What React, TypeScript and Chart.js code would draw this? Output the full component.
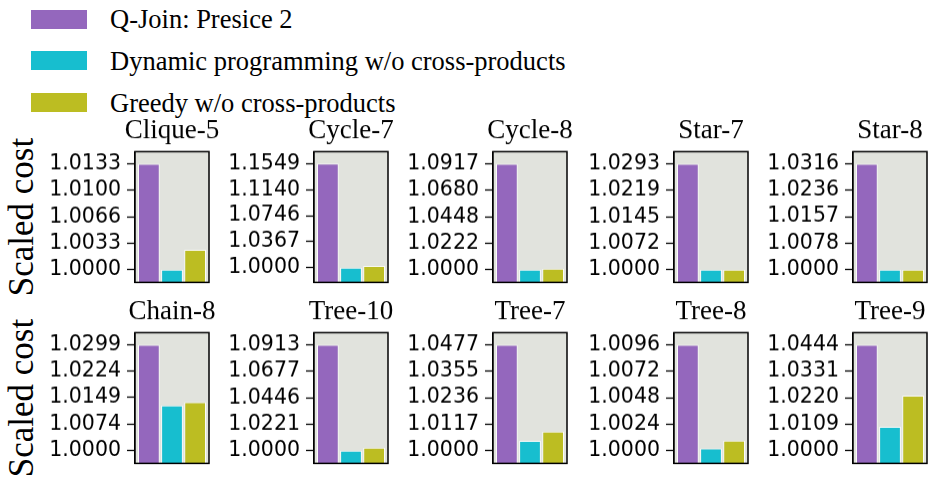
import React, { useEffect, useRef } from 'react';
import { Chart, registerables } from 'chart.js';

Chart.register(...registerables);

// ---- data ----
const panelTitles = ['Clique-5', 'Cycle-7', 'Cycle-8', 'Star-7', 'Star-8', 'Chain-8', 'Tree-10', 'Tree-7', 'Tree-8', 'Tree-9'];
const qjoinCost = [1.0133, 1.1549, 1.0917, 1.0293, 1.0316, 1.0299, 1.0913, 1.0477, 1.0096, 1.0444];
const dpCost = [1.0, 1.0, 1.0, 1.0, 1.0, 1.0127, 1.0, 1.0043, 1.0002, 1.0099];
const greedyCost = [1.0025, 1.0025, 1.0008, 1.0, 1.0, 1.0136, 1.0025, 1.0084, 1.0009, 1.0229];
const tickLabels: string[][] = [
  ['1.0000', '1.0033', '1.0066', '1.0100', '1.0133'],
  ['1.0000', '1.0367', '1.0746', '1.1140', '1.1549'],
  ['1.0000', '1.0222', '1.0448', '1.0680', '1.0917'],
  ['1.0000', '1.0072', '1.0145', '1.0219', '1.0293'],
  ['1.0000', '1.0078', '1.0157', '1.0236', '1.0316'],
  ['1.0000', '1.0074', '1.0149', '1.0224', '1.0299'],
  ['1.0000', '1.0221', '1.0446', '1.0677', '1.0913'],
  ['1.0000', '1.0117', '1.0236', '1.0355', '1.0477'],
  ['1.0000', '1.0024', '1.0048', '1.0072', '1.0096'],
  ['1.0000', '1.0109', '1.0220', '1.0331', '1.0444'],
];
const seriesNames = ['Q-Join: Presice 2', 'Dynamic programming w/o cross-products', 'Greedy w/o cross-products'];
const seriesColors = ['#9467bd', '#17becf', '#bcbd22'];
const barPositions = [0, 1, 2];
const yAxisLabel = 'Scaled cost';

// ---- layout ----
const BOX_LEFT = [135, 314.3, 493.3, 674, 852.7];
const BOX_TOP = [151.7, 332.7];
const BOX_W = 74;
const BOX_H = 130;
const TITLE_SIZE = 27;
const TITLE_PAD_B = 4;
const TITLE_BLOCK = TITLE_SIZE * 1.2 + TITLE_PAD_B;
const PAD_B = 2;
const PANEL_BG = '#e1e3dd';

const framePlugin = {
  id: 'frame',
  beforeDatasetsDraw(chart: any) {
    const { ctx, chartArea } = chart;
    const { left, top, right, bottom } = chartArea;
    ctx.save();
    ctx.fillStyle = PANEL_BG;
    ctx.fillRect(left, top, right - left, bottom - top);
    ctx.restore();
  },
  afterDatasetsDraw(chart: any) {
    const { ctx, chartArea } = chart;
    const { left, top, right, bottom } = chartArea;
    ctx.save();
    ctx.strokeStyle = '#000';
    ctx.lineWidth = 1.5;
    ctx.strokeRect(left, top, right - left, bottom - top);
    ctx.restore();
  },
};

function Panel({ index }: { index: number }) {
  const ref = useRef<HTMLCanvasElement>(null);
  const col = index % 5;
  const row = Math.floor(index / 5);
  const side = col === 0 ? BOX_LEFT[0] : 110;
  const left = BOX_LEFT[col] - side;
  const top = BOX_TOP[row] - TITLE_BLOCK;
  const width = side * 2 + BOX_W;
  const height = TITLE_BLOCK + BOX_H + PAD_B;

  useEffect(() => {
    if (!ref.current) return;
    const labels = tickLabels[index];
    const tickVals = labels.map((s) => parseFloat(s));
    const lo = tickVals[0];
    const hi = tickVals[tickVals.length - 1];
    const R = Math.log(hi / lo);
    const yMin = lo * Math.exp(-0.12 * R);
    const yMax = hi * Math.exp(0.115 * R);
    const values = [qjoinCost[index], dpCost[index], greedyCost[index]];

    const chart = new Chart(ref.current, {
      type: 'bar',
      data: {
        datasets: [
          {
            data: values.map((v, i) => ({ x: barPositions[i], y: v })),
            backgroundColor: seriesColors,
            borderColor: 'rgba(255,255,255,0.85)',
            borderWidth: 1,
            categoryPercentage: 1,
            barPercentage: 0.94,
          } as any,
        ],
      },
      options: {
        animation: false,
        responsive: true,
        maintainAspectRatio: false,
        layout: { padding: { left: 0, right: 0, top: 0, bottom: PAD_B } },
        plugins: {
          legend: { display: false },
          tooltip: { enabled: false },
          title: {
            display: true,
            text: panelTitles[index],
            font: { family: 'Liberation Serif', size: TITLE_SIZE, weight: 'normal' },
            color: '#000',
            padding: { top: 0, bottom: TITLE_PAD_B },
          },
        },
        scales: {
          x: {
            type: 'linear',
            min: -0.6,
            max: 2.6,
            offset: false,
            display: false,
            afterBuildTicks: (s: any) => {
              s.ticks = barPositions.map((v) => ({ value: v }));
            },
          },
          y: {
            type: 'logarithmic',
            position: 'left',
            min: yMin,
            max: yMax,
            afterBuildTicks: (s: any) => {
              s.ticks = tickVals.map((v) => ({ value: v }));
            },
            afterFit: (s: any) => {
              s.width = side;
              s.paddingTop = 0;
              s.paddingBottom = 0;
            },
            ticks: {
              callback: (_v: any, i: number) => labels[i],
              font: { family: 'DejaVu Sans', size: 20.5 },
              color: '#000',
              padding: 6,
              autoSkip: false,
            },
            grid: {
              drawOnChartArea: false,
              drawTicks: true,
              tickLength: 8,
              tickWidth: 1.3,
              tickColor: '#000',
              color: '#000',
            },
            border: { display: true, color: '#000', width: 1.3 },
          },
          y2: {
            position: 'right',
            afterFit: (s: any) => {
              s.width = side;
              s.paddingTop = 0;
              s.paddingBottom = 0;
            },
            ticks: { display: false },
            grid: { display: false },
            border: { display: false },
          },
        },
      } as any,
      plugins: [framePlugin],
    });
    return () => chart.destroy();
  }, [index]);

  return (
    <div style={{ position: 'absolute', left, top, width, height }}>
      <canvas ref={ref} />
    </div>
  );
}

const LEGEND_SIZE = 26.5;
const LEGEND_BASELINES = [28.3, 70, 111.7];
const LEGEND_PATCH_TOPS = [10, 51, 93];
const YLABEL_SIZE = 35;

export default function App() {
  return (
    <div
      style={{
        position: 'absolute',
        left: 0,
        top: 0,
        width: 935,
        height: 482,
        overflow: 'hidden',
        background: '#fff',
      }}
    >
      {seriesNames.map((name, i) => (
        <React.Fragment key={name}>
          <div
            style={{
              position: 'absolute',
              left: 30.7,
              top: LEGEND_PATCH_TOPS[i],
              width: 56.7,
              height: 19.3,
              background: seriesColors[i],
            }}
          />
          <div
            style={{
              position: 'absolute',
              left: 110,
              top: LEGEND_BASELINES[i] - (LEGEND_SIZE / 2 + 0.3375 * LEGEND_SIZE),
              fontFamily: 'Liberation Serif',
              fontSize: LEGEND_SIZE,
              lineHeight: `${LEGEND_SIZE}px`,
              whiteSpace: 'nowrap',
              color: '#000',
            }}
          >
            {name}
          </div>
        </React.Fragment>
      ))}
      {BOX_TOP.map((bt) => (
        <div
          key={bt}
          style={{
            position: 'absolute',
            left: 21.2,
            top: bt + BOX_H / 2,
            transform: 'translate(-50%, -50%) rotate(-90deg)',
            fontFamily: 'Liberation Serif',
            fontSize: YLABEL_SIZE,
            lineHeight: `${YLABEL_SIZE}px`,
            whiteSpace: 'nowrap',
            color: '#000',
          }}
        >
          {yAxisLabel}
        </div>
      ))}
      {panelTitles.map((t, i) => (
        <Panel key={t} index={i} />
      ))}
    </div>
  );
}
